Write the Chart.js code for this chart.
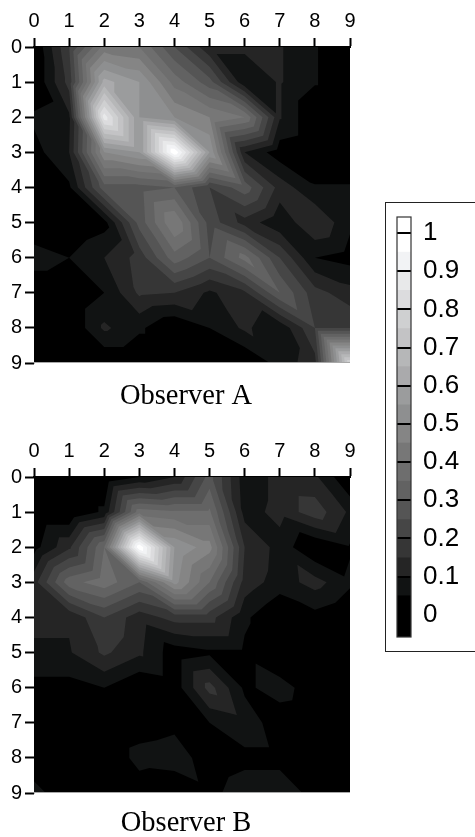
<!DOCTYPE html>
<html><head><meta charset="utf-8">
<script src="https://cdn.jsdelivr.net/npm/chart.js@4/dist/chart.umd.min.js"></script>
<style>
html,body{margin:0;padding:0;background:#fff;overflow:hidden;width:475px;height:837px}
canvas{position:absolute;display:block}
#wa,#wb,#wl{position:absolute}
#wa{left:0;top:0;width:372px;height:410px}
#wb{left:0;top:430px;width:372px;height:407px}
#wl{left:385px;top:202px;width:90px;height:448px}
#frame{position:absolute;left:384.5px;top:201.5px;width:95px;height:448px;border:1.5px solid #222;box-sizing:content-box}
</style></head><body>
<div id="frame"></div>
<div id="wa"><canvas id="ca"></canvas></div>
<div id="wb"><canvas id="cb"></canvas></div>
<div id="wl"><canvas id="cl"></canvas></div>
<script>
const axisLabels = [0,1,2,3,4,5,6,7,8,9];
const observerA = [
 [0,.2,.42,.4,.25,.11,.11,.105,.055,0],
 [0,.17,.62,.55,.38,.27,.06,.105,.055,0],
 [.06,.09,.88,.55,.5,.45,.4,.105,0,0],
 [.03,.1,.5,.55,1,.55,.1,.02,0,0],
 [0,.04,.28,.28,.3,.2,.28,.13,.055,.055],
 [0,0,.03,.27,.45,.23,.13,.06,.15,.06],
 [.08,.05,.1,.17,.33,.25,.37,.2,.05,.03],
 [0,0,.05,.16,.15,.09,.14,.3,.17,.12],
 [0,0,.11,.06,0,.05,.11,.06,.2,.2],
 [0,0,0,0,0,0,0,.07,.13,.8]
];
const observerB = [
 [0,0,0,.05,.1,.27,.07,.115,.11,0],
 [0,0,.06,.38,.36,.36,.08,.115,.18,.09],
 [.03,.14,.35,1,.55,.47,.15,.08,0,.045],
 [.13,.33,.38,.3,.52,.35,.13,.075,.12,.06],
 [.107,.107,.2,.12,.17,.17,.06,0,.03,0],
 [.095,.095,.16,.11,.02,.04,.04,0,0,0],
 [.03,.03,.05,0,.02,.17,.04,.072,.02,0],
 [0,0,0,.02,.035,.05,.08,.02,.01,0],
 [0,0,0,.07,.08,.02,.037,.037,.01,0],
 [.075,0,0,.015,0,.036,.075,.075,.036,0]
];
const bandEdges = [-0.058,.05,.1,.15,.2,.25,.3,.35,.4,.45,.5,.55,.6,.65,.7,.75,.8,.85,.9,.95,1.042];
const bandColors = ['#000000','#111313','#252525','#363636','#464646','#555555','#626262','#6e6e6e','#777777','#858585','#8e8f90','#9b9c9d','#aaaaac','#b6b7b8','#c3c3c5','#cfd0d1','#dcdcde','#e8e9ea','#f2f3f5','#ffffff'];
const legendTicks = [0,.1,.2,.3,.4,.5,.6,.7,.8,.9,1];

const SANS = '"Liberation Sans", Arial, Helvetica, sans-serif';
const SERIF = '"Liberation Serif", "Times New Roman", serif';

function clipTri(p, lv){
  const out=[];
  for(let i=0;i<3;i++){
    const a=p[i], b=p[(i+1)%3];
    if(a[2]>=lv) out.push(a);
    if((a[2]>=lv)!==(b[2]>=lv)){
      const t=(lv-a[2])/(b[2]-a[2]);
      out.push([a[0]+t*(b[0]-a[0]),a[1]+t*(b[1]-a[1]),lv]);
    }
  }
  return out;
}
const contourPlugin = {
  id:'contour',
  beforeDatasetsDraw(chart){
    const {ctx,chartArea:ca,scales:{x,y}} = chart;
    const pts = chart.data.datasets[0].data;
    const n = axisLabels.length;
    const at=(i,j)=>{const d=pts[j*n+i];return [x.getPixelForValue(d.x),y.getPixelForValue(d.y),d.v];};
    ctx.save();
    ctx.beginPath();ctx.rect(ca.left,ca.top,ca.width,ca.height);ctx.clip();
    ctx.fillStyle=bandColors[0];
    ctx.fillRect(ca.left,ca.top,ca.width,ca.height);
    for(let k=1;k<bandColors.length;k++){
      const lv=bandEdges[k];
      ctx.beginPath();
      for(let j=0;j<n-1;j++)for(let i=0;i<n-1;i++){
        const a=at(i,j),b=at(i+1,j),c=at(i+1,j+1),d=at(i,j+1);
        [[a,b,c],[a,c,d]].forEach(t=>{
          const q=clipTri(t,lv);
          if(q.length>2){
            ctx.moveTo(q[0][0],q[0][1]);
            for(let m=1;m<q.length;m++)ctx.lineTo(q[m][0],q[m][1]);
            ctx.closePath();
          }
        });
      }
      ctx.fillStyle=bandColors[k];
      ctx.fill();
    }
    ctx.restore();
  },
  afterDraw(chart){
    const {ctx,chartArea:ca}=chart;
    ctx.save();
    ctx.strokeStyle='#a8a8a8';ctx.lineWidth=1;
    ctx.beginPath();ctx.moveTo(ca.left,ca.bottom-.5);ctx.lineTo(ca.right,ca.bottom-.5);ctx.stroke();
    ctx.restore();
  }
};
function contour(id,grid,title,titlePad){
  const pts=[];
  grid.forEach((row,j)=>row.forEach((v,i)=>pts.push({x:axisLabels[i],y:axisLabels[j],v})));
  const common={
    min:0,max:9,
    afterBuildTicks(s){s.ticks=axisLabels.map(v=>({value:v}));},
    grid:{drawOnChartArea:false,drawTicks:true,tickLength:9,tickWidth:2,tickColor:'#000'},
  };
  new Chart(document.getElementById(id),{
    type:'scatter',
    data:{datasets:[{data:pts,pointRadius:0,pointHoverRadius:0,showLine:false}]},
    plugins:[contourPlugin],
    options:{
      responsive:true,maintainAspectRatio:false,animation:false,
      layout:{padding:{left:0,right:0,top:0,bottom:0}},
      plugins:{legend:{display:false},tooltip:{enabled:false},
        title:{display:true,text:title,position:'bottom',color:'#000',
          font:{family:SERIF,size:28.5,weight:'normal',lineHeight:'26px'},padding:{top:titlePad,bottom:0}}},
      scales:{
        x:{...common,type:'linear',position:'top',
          border:{color:'#000',width:2},
          afterFit(s){s.height=47;},
          ticks:{color:'#000',font:{family:SANS,size:20},padding:5,maxRotation:0,autoSkip:false,callback:v=>String(v)}},
        y:{...common,type:'linear',position:'left',reverse:true,
          border:{color:'#c4c4c4',width:1},
          afterFit(s){s.width=34;},
          ticks:{color:'#000',font:{family:SANS,size:20},padding:3,autoSkip:false,callback:v=>String(v)}},
        spacer:{axis:'y',type:'linear',position:'right',min:0,max:9,
          border:{display:false},grid:{display:false},ticks:{display:false},
          afterFit(s){s.width=22;}}
      }
    }
  });
}
contour('ca',observerA,'Observer A',21);
contour('cb',observerB,'Observer B',18);

new Chart(document.getElementById('cl'),{
  type:'bar',
  data:{labels:[''],datasets:bandColors.map((c,k)=>({data:[[bandEdges[k],bandEdges[k+1]]],backgroundColor:c,borderWidth:0,barPercentage:1,categoryPercentage:1}))},
  plugins:[{id:'barOutline',afterDraw(chart){
    const {ctx,chartArea:a}=chart;
    ctx.save();ctx.strokeStyle='#333';ctx.lineWidth=1.2;ctx.strokeRect(a.left,a.top,a.width,a.height);ctx.restore();
  }}],
  options:{
    responsive:true,maintainAspectRatio:false,animation:false,
    layout:{padding:{left:12,right:0,top:15,bottom:13}},
    plugins:{legend:{display:false},tooltip:{enabled:false}},
    scales:{
      x:{display:false,stacked:true},
      y:{type:'linear',position:'right',min:bandEdges[0],max:bandEdges[bandEdges.length-1],
        afterBuildTicks(s){s.ticks=legendTicks.map(v=>({value:v}));},
        afterFit(s){s.width=64;s.paddingTop=0;s.paddingBottom=0;},
        border:{display:false},
        grid:{z:1,color:'#000',lineWidth:2,drawTicks:false,tickLength:0},
        ticks:{color:'#000',font:{family:SANS,size:26},padding:12,autoSkip:false,callback:v=>String(v)}}
    }
  }
});
</script>
</body></html>
